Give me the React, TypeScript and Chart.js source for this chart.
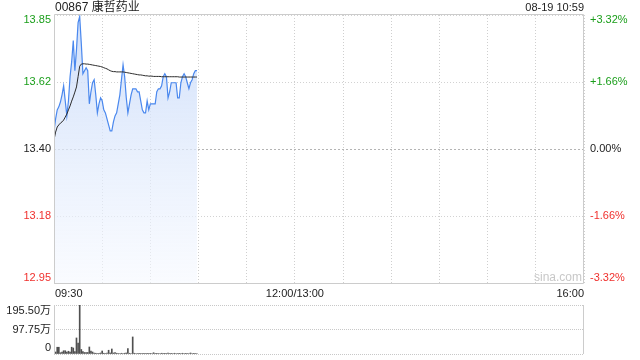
import React, { useEffect, useRef } from 'react';
import { Chart, registerables } from 'chart.js';

Chart.register(...registerables);

const TITLE = '00867 康哲药业';
const TIMESTAMP = '08-19 10:59';
const WATERMARK = 'sina.com';

const PRICE_MIN = 12.955;
const PRICE_MAX = 13.845;
const PRICE_TICKS = [12.955, 13.1775, 13.4, 13.6225, 13.845];
const PRICE_TICK_LABELS = ['12.95', '13.18', '13.40', '13.62', '13.85'];
const PCT_TICKS = [-3.32, -1.66, 0, 1.66, 3.32];
const PCT_TICK_LABELS = ['-3.32%', '-1.66%', '0.00%', '+1.66%', '+3.32%'];
const TICK_COLORS = ['#f0302d', '#f0302d', '#222222', '#1a9e1a', '#1a9e1a'];

const TIME_LABELS = ['09:30', '12:00/13:00', '16:00'];
const TIME_LABEL_MINUTES = [0, 150, 330];
const SESSION_MINUTES = 330;

const VOL_MAX = 195.5;
const VOL_TICKS = [0, 97.75, 195.5];
const VOL_TICK_LABELS = ['0', '97.75万', '195.50万'];

const price = [
  13.46, 13.5, 13.53, 13.54, 13.556, 13.58, 13.61, 13.56, 13.51, 13.56,
  13.64, 13.69, 13.76, 13.66, 13.73, 13.82, 13.84, 13.75, 13.65, 13.66,
  13.67, 13.66, 13.55, 13.59, 13.62, 13.63, 13.58, 13.52, 13.55, 13.57,
  13.56, 13.53, 13.52, 13.5, 13.48, 13.46, 13.46, 13.49, 13.51, 13.52,
  13.55, 13.58, 13.63, 13.68, 13.64, 13.57, 13.52, 13.55, 13.58, 13.6,
  13.6, 13.6, 13.59, 13.59, 13.56, 13.53, 13.52, 13.52, 13.56, 13.53,
  13.55, 13.55, 13.55, 13.55, 13.59, 13.6, 13.6, 13.61, 13.64, 13.65,
  13.64, 13.57, 13.59, 13.62, 13.62, 13.62, 13.62, 13.57, 13.57, 13.62,
  13.64, 13.65, 13.64, 13.62, 13.6, 13.62, 13.63, 13.65, 13.66, 13.66,
];

const avgPrice = [
  13.43, 13.456, 13.473, 13.48, 13.486, 13.49, 13.496, 13.506, 13.516, 13.53,
  13.543, 13.559, 13.573, 13.589, 13.606, 13.64, 13.675, 13.682, 13.683, 13.683,
  13.682, 13.682, 13.681, 13.68, 13.679, 13.678, 13.677, 13.676, 13.675, 13.674,
  13.672, 13.67, 13.668, 13.666, 13.663, 13.66, 13.658, 13.657, 13.657, 13.656,
  13.656, 13.656, 13.656, 13.656, 13.655, 13.654, 13.653, 13.652, 13.651, 13.65,
  13.649, 13.648, 13.647, 13.646, 13.646, 13.645, 13.644, 13.643, 13.643, 13.642,
  13.642, 13.642, 13.641, 13.641, 13.641, 13.641, 13.641, 13.64, 13.64, 13.64,
  13.64, 13.64, 13.64, 13.64, 13.64, 13.64, 13.64, 13.64, 13.639, 13.639,
  13.639, 13.639, 13.639, 13.639, 13.639, 13.639, 13.639, 13.639, 13.639, 13.639,
];

const volume = [
  11, 8, 27, 27, 5, 8, 13, 13, 8, 11,
  8, 27, 24, 10, 64, 44, 195.5, 18, 10, 6,
  6, 6, 28, 12, 8, 4, 3, 2, 3, 4,
  12, 3, 2, 4, 15, 4, 20, 4, 6, 3,
  2, 2, 3, 2, 3, 4, 22, 3, 2, 68,
  3, 2, 2, 1.5, 2, 2, 1.5, 2, 3, 2,
  1.5, 2, 5, 2, 1.5, 2, 2, 3, 2, 1.5,
  2, 4, 2, 1.5, 2, 3, 2, 2, 1.5, 2,
  3, 2, 1.5, 2, 2, 4, 2, 1.5, 2, 2,
];

const FONT = 'Arial, "Liberation Sans", "Noto Sans CJK SC", sans-serif';

const toXY = (arr: number[]) => arr.map((v, i) => ({ x: i, y: v }));

const framePlugin = {
  id: 'frame',
  afterDatasetsDraw(chart: any, _args: any, opts: any) {
    const { ctx, chartArea } = chart;
    const { left, right, top, bottom } = chartArea;
    ctx.save();
    ctx.strokeStyle = '#cccccc';
    ctx.lineWidth = 1;
    ctx.setLineDash([]);
    ctx.beginPath();
    if (opts.full) {
      ctx.rect(Math.round(left) + 0.5, Math.round(top) - 0.5, Math.round(right - left) - 1, Math.round(bottom - top) + 1);
    } else {
      ctx.moveTo(Math.round(left) + 0.5, top);
      ctx.lineTo(Math.round(left) + 0.5, bottom);
      ctx.moveTo(Math.round(right) - 0.5, top);
      ctx.lineTo(Math.round(right) - 0.5, bottom);
    }
    ctx.stroke();
    ctx.restore();
  },
};

const textPlugin = {
  id: 'texts',
  afterDraw(chart: any) {
    const { ctx, chartArea, scales } = chart;
    const x = scales.x;
    ctx.save();
    ctx.textBaseline = 'middle';
    ctx.fillStyle = '#222';
    ctx.font = `12px ${FONT}`;
    ctx.textAlign = 'left';
    ctx.fillText(TITLE, chartArea.left + 1, 8);
    ctx.font = `11px ${FONT}`;
    ctx.textAlign = 'right';
    ctx.fillText(TIMESTAMP, chartArea.right, 8);

    TIME_LABELS.forEach((t, i) => {
      const px = x.getPixelForValue(TIME_LABEL_MINUTES[i]);
      ctx.textAlign = i === 0 ? 'left' : i === TIME_LABELS.length - 1 ? 'right' : 'center';
      ctx.fillText(t, i === 0 ? px + 1 : px, 294);
    });

    ctx.font = `12px ${FONT}`;
    ctx.fillStyle = '#c8c8c8';
    ctx.textAlign = 'right';
    ctx.fillText(WATERMARK, chartArea.right - 2, chartArea.bottom - 5);
    ctx.restore();
  },
};

const edgeLabel = (label: string, index: number, count: number) => {
  if (index === count - 1) return ['', label];
  if (index === 0) return [label, ''];
  return label;
};

const noPad = (s: any) => {
  s.paddingTop = 0;
  s.paddingBottom = 0;
};

export default function App() {
  const priceRef = useRef<HTMLCanvasElement>(null);
  const volRef = useRef<HTMLCanvasElement>(null);

  useEffect(() => {
    const priceChart = new Chart(priceRef.current as HTMLCanvasElement, {
      type: 'line',
      data: {
        datasets: [
          {
            data: toXY(avgPrice),
            borderColor: '#2a2a2a',
            borderWidth: 1,
            pointRadius: 0,
            fill: false,
            tension: 0,
            order: 1,
          },
          {
            data: toXY(price),
            borderColor: '#4a88ee',
            borderWidth: 1.2,
            pointRadius: 0,
            tension: 0,
            fill: 'start',
            order: 2,
            backgroundColor: (c: any) => {
              const ca = c.chart.chartArea;
              if (!ca) return 'rgba(210,225,250,0.6)';
              const g = c.chart.ctx.createLinearGradient(0, ca.top, 0, ca.bottom);
              g.addColorStop(0, 'rgba(200,218,249,0.85)');
              g.addColorStop(1, 'rgba(246,249,255,0.6)');
              return g;
            },
          },
        ],
      },
      options: {
        animation: false,
        responsive: false,
        maintainAspectRatio: false,
        events: [],
        layout: { padding: { top: 15, left: 0, right: 0, bottom: 0 } },
        plugins: { legend: { display: false }, tooltip: { enabled: false }, frame: { full: true } } as any,
        scales: {
          x: {
            type: 'linear',
            min: 0,
            max: SESSION_MINUTES,
            bounds: 'data',
            offset: false,
            ticks: { display: false, stepSize: 30 },
            grid: { color: '#cfcfcf', drawTicks: false, lineWidth: 1 },
            border: { display: false, dash: [1, 2] },
            afterFit: (s: any) => { s.height = 17; },
          },
          y: {
            position: 'left',
            min: PRICE_MIN,
            max: PRICE_MAX,
            bounds: 'data',
            afterBuildTicks: (s: any) => { s.ticks = PRICE_TICKS.map((v) => ({ value: v })); },
            ticks: {
              autoSkip: false,
              padding: 3,
              font: { size: 11, family: FONT, lineHeight: 0.9 },
              color: (c: any) => TICK_COLORS[c.index] || '#222',
              callback: (_v: any, i: number) => edgeLabel(PRICE_TICK_LABELS[i], i, PRICE_TICK_LABELS.length),
            },
            grid: {
              drawTicks: false,
              color: (c: any) => (c.index === 2 ? '#b4b4b4' : '#d2d2d2'),
            },
            border: { display: false, dash: (c: any) => (c.index === 2 ? [2, 2] : [1, 2]) },
            afterFit: (s: any) => { s.width = 54; noPad(s); },
          } as any,
          y2: {
            position: 'right',
            min: -3.32,
            max: 3.32,
            bounds: 'data',
            afterBuildTicks: (s: any) => { s.ticks = PCT_TICKS.map((v) => ({ value: v })); },
            ticks: {
              autoSkip: false,
              padding: 6,
              font: { size: 11, family: FONT, lineHeight: 0.9 },
              color: (c: any) => TICK_COLORS[c.index] || '#222',
              callback: (_v: any, i: number) => edgeLabel(PCT_TICK_LABELS[i], i, PCT_TICK_LABELS.length),
            },
            grid: { display: false, drawTicks: false },
            border: { display: false },
            afterFit: (s: any) => { s.width = 56; noPad(s); },
          } as any,
        },
      } as any,
      plugins: [framePlugin, textPlugin],
    });

    const volChart = new Chart(volRef.current as HTMLCanvasElement, {
      type: 'bar',
      data: {
        datasets: [
          {
            data: toXY(volume),
            backgroundColor: '#505050',
            borderWidth: 0,
            barThickness: 1,
          },
        ],
      },
      options: {
        animation: false,
        responsive: false,
        maintainAspectRatio: false,
        events: [],
        layout: { padding: { top: 5, left: 0, right: 56, bottom: 6 } },
        plugins: { legend: { display: false }, tooltip: { enabled: false }, frame: { full: false } } as any,
        scales: {
          x: {
            type: 'linear',
            min: 0,
            max: SESSION_MINUTES,
            bounds: 'data',
            offset: false,
            grid: { offset: false },
            display: false,
          },
          y: {
            position: 'left',
            min: 0,
            max: VOL_MAX,
            bounds: 'data',
            afterBuildTicks: (s: any) => { s.ticks = VOL_TICKS.map((v) => ({ value: v })); },
            ticks: {
              autoSkip: false,
              padding: 3,
              color: '#222',
              font: { size: 11, family: FONT, lineHeight: 1.15 },
              callback: (_v: any, i: number) => edgeLabel(VOL_TICK_LABELS[i], i, VOL_TICK_LABELS.length),
            },
            grid: { drawTicks: false, color: '#c8c8c8' },
            border: { display: false, dash: [1, 1] },
            afterFit: (s: any) => { s.width = 54; noPad(s); },
          } as any,
        },
      } as any,
      plugins: [framePlugin],
    });

    return () => {
      priceChart.destroy();
      volChart.destroy();
    };
  }, []);

  return (
    <div style={{ position: 'absolute', left: 0, top: 0, width: 640, height: 360, background: '#fff' }}>
      <canvas ref={priceRef} width={640} height={300} style={{ position: 'absolute', left: 0, top: 0, width: 640, height: 300 }} />
      <canvas ref={volRef} width={640} height={60} style={{ position: 'absolute', left: 0, top: 300, width: 640, height: 60 }} />
    </div>
  );
}
